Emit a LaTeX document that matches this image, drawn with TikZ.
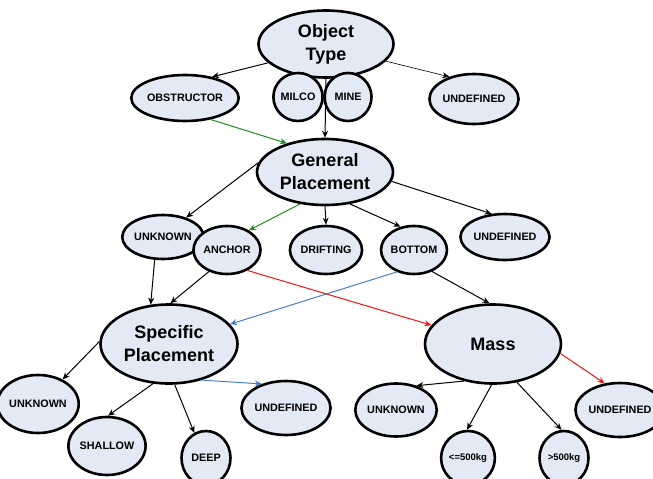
\documentclass[tikz,border=0pt]{standalone}
\usepackage{fontspec}
\setmainfont{Liberation Sans}
\usetikzlibrary{arrows.meta,shapes.geometric}
\definecolor{nodefill}{HTML}{E3E9F5}
\definecolor{linkgreen}{HTML}{1E8C1E}
\definecolor{linkred}{HTML}{F01414}
\definecolor{linkblue}{HTML}{4A7EC2}
\tikzset{
  oval/.style={ellipse, draw=black, line width=2.6pt, fill=nodefill, inner sep=0pt,
               font=\bfseries\fontsize{10.8}{12}\selectfont, align=center},
  bigoval/.style={oval, font=\bfseries\fontsize{18}{23}\selectfont},
  link/.style={-{Stealth[length=7pt,width=6pt]}, line width=1pt, draw=black},
  thinlink/.style={link, line width=0.6pt},
}
\begin{document}
\begin{tikzpicture}[x=1pt,y=-1pt]
\useasboundingbox (0,0) rectangle (653,479);
\fill[white] (0,0) rectangle (653,479);

% top level
\node[bigoval, minimum width=135pt, minimum height=67pt] (ot) at (326,44) {Object\\Type};
\node[oval, minimum width=84pt, minimum height=46pt] (obs) at (185,98) {OBSTRUCTOR};
\node[oval, minimum width=47pt, minimum height=48pt] (milco) at (298,97) {MILCO};
\node[oval, minimum width=47pt, minimum height=48pt] (mine) at (348,97) {MINE};
\node[oval, minimum width=65pt, minimum height=50pt] (otund) at (474,99) {UNDEFINED};

% general placement level
\node[bigoval, minimum width=136pt, minimum height=66pt] (gp) at (325,172) {General\\Placement};
\node[oval, minimum width=65pt, minimum height=44pt] (gpunk) at (163,237) {UNKNOWN};
\node[oval, minimum width=53pt, minimum height=48pt] (anc) at (227,250) {ANCHOR};
\node[oval, minimum width=57pt, minimum height=48pt] (drift) at (326,250) {DRIFTING};
\node[oval, minimum width=49pt, minimum height=48pt] (bot) at (414,250) {BOTTOM};
\node[oval, minimum width=71pt, minimum height=46pt] (gpund) at (505,237) {UNDEFINED};

% specific placement and mass
\node[bigoval, minimum width=137pt, minimum height=79pt] (sp) at (169,344) {Specific\\Placement};
\node[bigoval, minimum width=136pt, minimum height=79pt] (mass) at (493,344) {Mass};

% leaves of specific placement
\node[oval, minimum width=61pt, minimum height=58pt] (spunk) at (38,404) {UNKNOWN};
\node[oval, minimum width=61pt, minimum height=58pt] (shal) at (107,446) {SHALLOW};
\node[oval, minimum width=49pt, minimum height=54pt] (deep) at (206,458) {DEEP};
\node[oval, minimum width=71pt, minimum height=54pt] (spund) at (286,408) {UNDEFINED};

% leaves of mass
\node[oval, minimum width=71pt, minimum height=53pt] (munk) at (396,410) {UNKNOWN};
\node[oval, minimum width=47pt, minimum height=54pt, font=\bfseries\fontsize{9.5}{11}\selectfont] (light) at (468,458) {<=500kg};
\node[oval, minimum width=49pt, minimum height=54pt, font=\bfseries\fontsize{9.5}{11}\selectfont] (heavy) at (564,458) {>500kg};
\node[oval, minimum width=65pt, minimum height=54pt] (mund) at (620,410) {UNDEFINED};

% connectors
\draw[link] (ot.-162) -- (obs.38);
\draw[thinlink] (ot.-16) -- (otund.138);
\draw[link] (ot.south) -- (gp.north);
\draw[link, draw=linkgreen] (obs.-40) -- (gp.143);

\draw[link] (gp.172) -- (gpunk.40);
\draw[link, draw=linkgreen] (gp.-128) -- (anc.42);
\draw[link] (gp.south) -- (drift.north);
\draw[link] (gp.-52) -- (bot.120);
\draw[link] (gp.-8) -- (gpund.120);

\draw[link] (gpunk.-110) -- (sp.115);
\draw[link] (anc.-130) -- (sp.88);
\draw[link, draw=linkred] (anc.-45) -- (mass.163);
\draw[link, draw=linkblue] (bot.-128) -- (sp.18);
\draw[link] (bot.-50) -- (mass.95);

\draw[link] (sp.178) -- (spunk.45);
\draw[link] (sp.-112) -- (shal.88);
\draw[link] (sp.-82) -- (deep.115);
\draw[link, draw=linkblue] (sp.-48) -- (spund.135);

\draw[link] (mass.-128) -- (munk.50);
\draw[link] (mass.-92) -- (light.92);
\draw[link] (mass.-58) -- (heavy.95);
\draw[link, draw=linkred] (mass.-8) -- (mund.120);
\end{tikzpicture}
\end{document}
